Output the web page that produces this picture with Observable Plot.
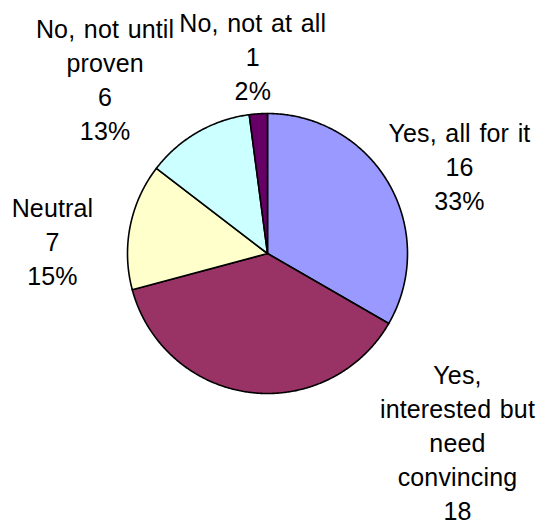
<!DOCTYPE html>
<html>
<head>
<meta charset="utf-8">
<script src="https://cdn.jsdelivr.net/npm/d3@7"></script>
<script src="https://cdn.jsdelivr.net/npm/@observablehq/plot@0.6"></script>
<style>
  html, body { margin: 0; padding: 0; background: #ffffff; }
  #chart { width: 537px; height: 524px; overflow: hidden; }
  #chart text { letter-spacing: 0.15px; word-spacing: 1.5px; }
</style>
</head>
<body>
<div id="chart"></div>
<script>
// ---- Data ----
const categories = [
  "Yes, all for it",
  "Yes, interested but need convincing",
  "Neutral",
  "No, not until proven",
  "No, not at all"
];
const counts = [16, 18, 7, 6, 1];
const percentLabels = ["33%", "38%", "15%", "13%", "2%"];
// category names as they are wrapped in the picture
const wrappedNames = [
  "Yes, all for it",
  "Yes,\ninterested but\nneed\nconvincing",
  "Neutral",
  "No, not until\nproven",
  "No, not at all"
];

// ---- Styling / layout ----
const colors = ["#9999FF", "#993366", "#FFFFCC", "#CCFFFF", "#660066"];
// label block centres, in units of the pie radius (x right, y up)
const labelPlacement = [
  [1.371, 0.630],
  [1.357, -1.465],
  [-1.536, 0.095],
  [-1.16, 1.252],
  [-0.105, 1.418]
];

const table = categories.map((c, i) => ({category: c, count: counts[i]}));
const arcs = d3.pie().sort(null).value(d => d.count).startAngle(0).endAngle(2 * Math.PI)(table);

// polygon outline for each slice (angles clockwise from 12 o'clock)
const slicePoints = [];
for (const a of arcs) {
  const cat = a.data.category;
  slicePoints.push({category: cat, x: 0, y: 0});
  const n = Math.max(2, Math.ceil((a.endAngle - a.startAngle) / (Math.PI / 360)));
  for (let k = 0; k <= n; k++) {
    const t = a.startAngle + (a.endAngle - a.startAngle) * k / n;
    slicePoints.push({category: cat, x: Math.sin(t), y: Math.cos(t)});
  }
}

const labels = categories.map((c, i) => ({
  category: c,
  text: `${wrappedNames[i]}\n${counts[i]}\n${percentLabels[i]}`,
  x: labelPlacement[i][0],
  y: labelPlacement[i][1]
}));

const chart = Plot.plot({
  width: 537,
  height: 524,
  margin: 0,
  style: {background: "#ffffff", fontFamily: "'Liberation Sans', Arial, sans-serif", overflow: "hidden"},
  x: {domain: [-1, 1], range: [127, 407], axis: null},
  y: {domain: [-1, 1], range: [393, 113], axis: null},
  color: {domain: categories, range: colors},
  marks: [
    Plot.line(slicePoints, {
      x: "x", y: "y", z: "category",
      fill: "category",
      stroke: "#000000",
      strokeWidth: 1.6,
      strokeLinejoin: "round",
      curve: "linear-closed"
    }),
    Plot.text(labels, {
      x: "x", y: "y", text: "text",
      fontSize: 25,
      lineHeight: 1.36,
      fill: "#000000",
      textAnchor: "middle",
      lineAnchor: "middle"
    })
  ]
});
document.getElementById("chart").appendChild(chart);
</script>
</body>
</html>
